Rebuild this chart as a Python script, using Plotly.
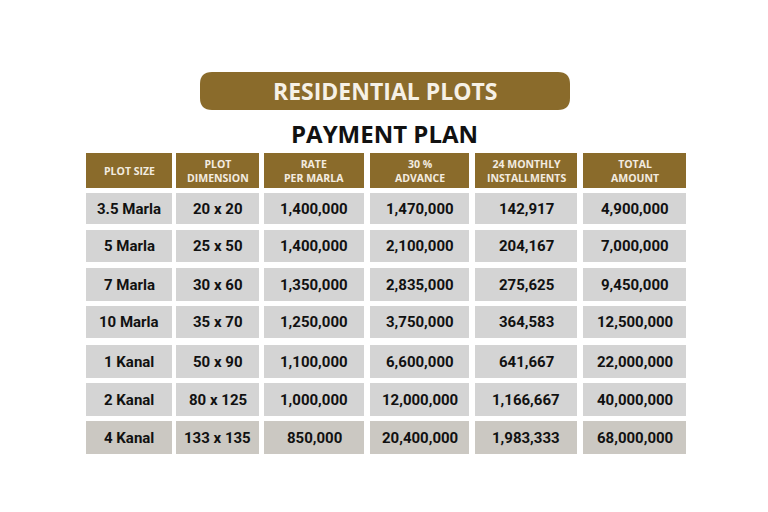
import plotly.graph_objects as go

headers = ["PLOT SIZE", "PLOT<br>DIMENSION", "RATE<br>PER MARLA", "30 %<br>ADVANCE", "24 MONTHLY<br>INSTALLMENTS", "TOTAL<br>AMOUNT"]
plot_size = ["3.5 Marla", "5 Marla", "7 Marla", "10 Marla", "1 Kanal", "2 Kanal", "4 Kanal"]
dimension = ["20 x 20", "25 x 50", "30 x 60", "35 x 70", "50 x 90", "80 x 125", "133 x 135"]
rate = ["1,400,000", "1,400,000", "1,350,000", "1,250,000", "1,100,000", "1,000,000", "850,000"]
advance = ["1,470,000", "2,100,000", "2,835,000", "3,750,000", "6,600,000", "12,000,000", "20,400,000"]
installments = ["142,917", "204,167", "275,625", "364,583", "641,667", "1,166,667", "1,983,333"]
total = ["4,900,000", "7,000,000", "9,450,000", "12,500,000", "22,000,000", "40,000,000", "68,000,000"]
columns = [plot_size, dimension, rate, advance, installments, total]

col_edges = [(86, 172), (176, 259), (264, 364), (370, 469), (475, 577), (583, 686)]
header_y = (153, 188)
row_edges = [(193, 224), (230, 262), (268, 301), (306, 338), (345, 378), (383, 416), (421, 454)]

GOLD = "#8a6b2b"
fig = go.Figure()
shapes, ann = [], []
shapes.append(dict(type="path", xref="x", yref="y",
    path="M 212 72 L 558 72 Q 570 72 570 84 L 570 98 Q 570 110 558 110 L 212 110 Q 200 110 200 98 L 200 84 Q 200 72 212 72 Z",
    fillcolor=GOLD, line=dict(width=0)))
ann.append(dict(x=385, y=91, text="<b>RESIDENTIAL PLOTS</b>", showarrow=False,
    font=dict(family="Open Sans", size=23, color="#f6f1e6"), xref="x", yref="y"))
ann.append(dict(x=384, y=133, text="<b>PAYMENT PLAN</b>", showarrow=False,
    font=dict(family="Open Sans", size=24, color="#111111"), xref="x", yref="y"))

for (x0, x1), h in zip(col_edges, headers):
    shapes.append(dict(type="rect", x0=x0, x1=x1, y0=header_y[0], y1=header_y[1],
        fillcolor=GOLD, line=dict(width=0), xref="x", yref="y"))
    ann.append(dict(x=(x0+x1)/2, y=sum(header_y)/2, text="<b>" + h + "</b>", showarrow=False,
        font=dict(family="Open Sans", size=10.5, color="#f3ece0"), xref="x", yref="y"))

for ri, (y0, y1) in enumerate(row_edges):
    fill = "#cbc8c2" if ri == len(row_edges)-1 else "#d4d4d4"
    for (x0, x1), col in zip(col_edges, columns):
        shapes.append(dict(type="rect", x0=x0, x1=x1, y0=y0, y1=y1,
            fillcolor=fill, line=dict(width=0), xref="x", yref="y"))
        ann.append(dict(x=(x0+x1)/2, y=(y0+y1)/2, text="<b>" + col[ri] + "</b>", showarrow=False,
            font=dict(family="Roboto", size=15, color="#111111"), xref="x", yref="y"))

fig.update_layout(width=768, height=512, margin=dict(l=0, r=0, t=0, b=0),
    paper_bgcolor="white", plot_bgcolor="white", shapes=shapes, annotations=ann,
    xaxis=dict(range=[8, 776], visible=False), yaxis=dict(range=[520, 8], visible=False),
    showlegend=False)
fig.write_html("out.html")
